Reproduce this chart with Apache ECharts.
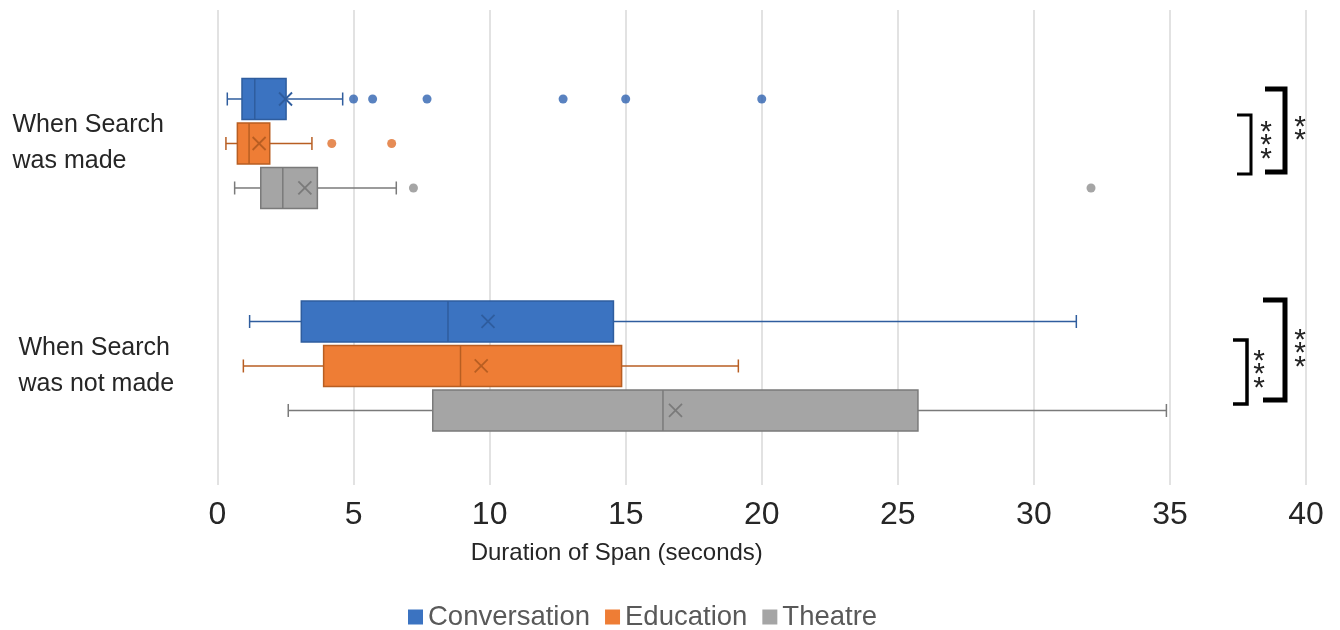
<!DOCTYPE html>
<html>
<head>
<meta charset="utf-8">
<title>Duration of Span</title>
<script src="https://cdn.jsdelivr.net/npm/echarts@6/dist/echarts.min.js"></script>
<style>
  html, body { margin: 0; padding: 0; background: #fff; }
  #chart { width: 1340px; height: 630px; }
</style>
</head>
<body>
<div id="chart"></div>
<script>
// groups on the vertical axis
const groups = ['When Search\nwas made', 'When Search\nwas not made'];
const seriesNames = ['Conversation', 'Education', 'Theatre'];
const colors = ['#3b73c1', '#ee7d35', '#a5a5a5'];
const darkColors = ['#2f5d9e', '#b85e22', '#7a7a7a'];
const dotColors = ['#2f63b0', '#e06f2c', '#8e8e8e'];

// [low whisker, Q1, median, Q3, high whisker] per group
const conversationBox = [[0.36, 0.90, 1.37, 2.52, 4.60], [1.18, 3.08, 8.47, 14.55, 31.56]];
const educationBox = [[0.31, 0.73, 1.16, 1.92, 3.47], [0.95, 3.90, 8.93, 14.85, 19.14]];
const theatreBox = [[0.63, 1.59, 2.40, 3.67, 6.57], [2.60, 7.91, 16.37, 25.74, 34.87]];

// mean (x marker) per group
const conversationMean = [2.50, 9.94];
const educationMean = [1.53, 9.69];
const theatreMean = [3.21, 16.83];

// outlier points per group
const conversationOutliers = [[5.0, 5.7, 7.7, 12.7, 15.0, 20.0], []];
const educationOutliers = [[4.2, 6.4], []];
const theatreOutliers = [[7.2, 32.1], []];

const boxes = [conversationBox, educationBox, theatreBox];
const means = [conversationMean, educationMean, theatreMean];
const outliers = [conversationOutliers, educationOutliers, theatreOutliers];

const FONT = '"Liberation Sans", Arial, sans-serif';
// vertical offset of each series inside a group (in group units)
const offsets = [-0.2, 0, 0.2];
const BOX_H = 41;
const CAP_H = 13;
const X_SIZE = 6.5;

function boxRenderer(s) {
  return function (params, api) {
    const yc = api.value(0) + offsets[s];
    const pLow = api.coord([api.value(1), yc]);
    const pQ1 = api.coord([api.value(2), yc]);
    const pMed = api.coord([api.value(3), yc]);
    const pQ3 = api.coord([api.value(4), yc]);
    const pHigh = api.coord([api.value(5), yc]);
    const pMean = api.coord([api.value(6), yc]);
    const y = pQ1[1];
    const lineStyle = { stroke: darkColors[s], lineWidth: 1.5 };
    const xStyle = { stroke: darkColors[s], lineWidth: 1.8 };
    return {
      type: 'group',
      children: [
        { type: 'line', shape: { x1: pLow[0], y1: y, x2: pQ1[0], y2: y }, style: lineStyle },
        { type: 'line', shape: { x1: pQ3[0], y1: y, x2: pHigh[0], y2: y }, style: lineStyle },
        { type: 'line', shape: { x1: pLow[0], y1: y - CAP_H / 2, x2: pLow[0], y2: y + CAP_H / 2 }, style: lineStyle },
        { type: 'line', shape: { x1: pHigh[0], y1: y - CAP_H / 2, x2: pHigh[0], y2: y + CAP_H / 2 }, style: lineStyle },
        {
          type: 'rect',
          shape: { x: pQ1[0], y: y - BOX_H / 2, width: pQ3[0] - pQ1[0], height: BOX_H },
          style: { fill: colors[s], stroke: darkColors[s], lineWidth: 1.5 }
        },
        { type: 'line', shape: { x1: pMed[0], y1: y - BOX_H / 2, x2: pMed[0], y2: y + BOX_H / 2 }, style: lineStyle },
        { type: 'line', shape: { x1: pMean[0] - X_SIZE, y1: y - X_SIZE, x2: pMean[0] + X_SIZE, y2: y + X_SIZE }, style: xStyle },
        { type: 'line', shape: { x1: pMean[0] - X_SIZE, y1: y + X_SIZE, x2: pMean[0] + X_SIZE, y2: y - X_SIZE }, style: xStyle }
      ]
    };
  };
}

const series = [];
seriesNames.forEach(function (name, s) {
  series.push({
    name: name,
    type: 'custom',
    renderItem: boxRenderer(s),
    itemStyle: { color: colors[s] },
    encode: { x: [1, 2, 3, 4, 5, 6], y: 0 },
    data: boxes[s].map(function (b, g) { return [g].concat(b, [means[s][g]]); }),
    z: 2
  });
  const pts = [];
  outliers[s].forEach(function (arr, g) {
    arr.forEach(function (v) { pts.push([v, g + offsets[s]]); });
  });
  series.push({
    name: name,
    type: 'scatter',
    symbolSize: 9,
    itemStyle: { color: dotColors[s] },
    data: pts,
    z: 3
  });
});

function bracket(x1, x2, y1, y2, w) {
  return {
    type: 'polyline',
    shape: { points: [[x1, y1], [x2, y1], [x2, y2], [x1, y2]] },
    style: { stroke: '#000', lineWidth: w, fill: null },
    z: 10
  };
}
function stars(x, y, n) {
  return {
    type: 'text',
    x: x, y: y,
    style: {
      text: new Array(n).fill('*').join('\n'),
      font: '30px ' + FONT,
      fill: '#222',
      align: 'center',
      verticalAlign: 'middle',
      lineHeight: 13.5
    },
    z: 10
  };
}

const chart = echarts.init(document.getElementById('chart'));
chart.setOption({
  animation: false,
  backgroundColor: '#fff',
  grid: { left: 217.5, right: 34, top: 10, bottom: 145 },
  legend: {
    data: seriesNames,
    left: 403,
    top: 598,
    icon: 'rect',
    itemWidth: 15,
    itemHeight: 15,
    itemGap: 15,
    textStyle: { fontSize: 27.5, color: '#595959', fontFamily: FONT }
  },
  xAxis: {
    type: 'value',
    min: 0,
    max: 40,
    interval: 5,
    axisLine: { show: false },
    axisTick: { show: false },
    splitLine: { show: true, lineStyle: { color: '#d9d9d9', width: 1.5 } },
    axisLabel: { fontSize: 32, color: '#262626', margin: 14, fontFamily: FONT },
    name: 'Duration of Span (seconds)',
    nameLocation: 'middle',
    nameGap: 56,
    nameTextStyle: { fontSize: 24, color: '#262626', padding: [0, 290, 0, 0], fontFamily: FONT }
  },
  yAxis: {
    type: 'value',
    inverse: true,
    min: -0.6,
    max: 1.535,
    splitLine: { show: false },
    axisLine: { show: false },
    axisTick: { show: false },
    axisLabel: {
      customValues: [0, 1],
      align: 'left',
      margin: 205,
      formatter: function (v) {
        const g = Math.round(v);
        return groups[g].split('\n').map(function (t) { return '{g' + g + '|' + t + '}'; }).join('\n');
      },
      rich: {
        g0: { fontSize: 25, lineHeight: 36, color: '#262626', fontFamily: FONT },
        g1: { fontSize: 25, lineHeight: 36, color: '#262626', padding: [0, 0, 0, 6], fontFamily: FONT }
      }
    }
  },
  graphic: [
    bracket(1237, 1251, 115, 174, 3),
    bracket(1265, 1285, 89, 172, 5),
    stars(1266, 146, 3),
    stars(1300, 134, 2),
    bracket(1233, 1247, 340, 404, 3.5),
    bracket(1263, 1285, 300, 400, 5),
    stars(1259, 375, 3),
    stars(1300, 354, 3)
  ],
  series: series
});
</script>
</body>
</html>
